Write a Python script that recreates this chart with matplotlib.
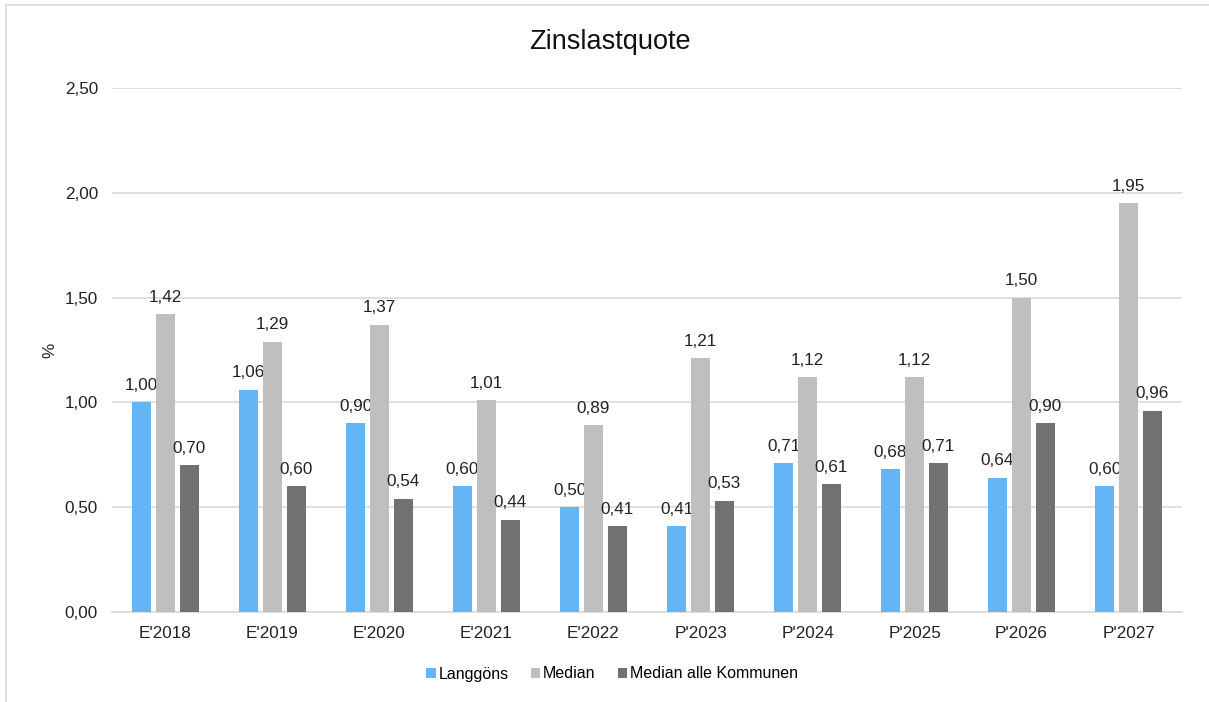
import numpy as np
import matplotlib.pyplot as plt
from matplotlib.lines import Line2D

plt.rcParams['font.family'] = ['Liberation Sans', 'DejaVu Sans']

# data
categories = ["E'2018", "E'2019", "E'2020", "E'2021", "E'2022",
              "P'2023", "P'2024", "P'2025", "P'2026", "P'2027"]
langgoens = [1.00, 1.06, 0.90, 0.60, 0.50, 0.41, 0.71, 0.68, 0.64, 0.60]
median = [1.42, 1.29, 1.37, 1.01, 0.89, 1.21, 1.12, 1.12, 1.50, 1.95]
median_alle = [0.70, 0.60, 0.54, 0.44, 0.41, 0.53, 0.61, 0.71, 0.90, 0.96]

series = [
    ('Langgöns', langgoens, '#63B5F5'),
    ('Median', median, '#BFBFBF'),
    ('Median alle Kommunen', median_alle, '#717171'),
]

fig = plt.figure(figsize=(12.09, 7.02), dpi=100)
ax = fig.add_axes([0.0926, 0.1282, 0.8851, 0.7464])

x = np.arange(len(categories))
width = 0.17
step = 0.224

for i, (name, vals, col) in enumerate(series):
    pos = x + (i - 1) * step
    bars = ax.bar(pos, vals, width, color=col, label=name, zorder=3)
    for b, v in zip(bars, vals):
        ax.text(b.get_x() + b.get_width() / 2, v + 0.045,
                f'{v:.2f}'.replace('.', ','), ha='center', va='bottom',
                fontsize=12.3, color='#222222')

ax.set_xlim(-0.5, len(categories) - 0.5)
ax.set_ylim(0, 2.5)
ax.set_yticks(np.arange(0, 2.51, 0.5))
ax.set_yticklabels([f'{t:.2f}'.replace('.', ',') for t in np.arange(0, 2.51, 0.5)])
ax.set_xticks(x)
ax.set_xticklabels(categories)
ax.tick_params(axis='both', length=0, labelsize=12.3, colors='#222222')
ax.tick_params(axis='y', pad=10)
ax.tick_params(axis='x', pad=10)
ax.grid(axis='y', color='#D9D9D9', linewidth=1.2, zorder=0)
for s in ['top', 'right', 'left']:
    ax.spines[s].set_visible(False)
ax.spines['bottom'].set_color('#D9D9D9')
ax.spines['bottom'].set_linewidth(1.2)

fig.text(50 / 1209, 1 - 350 / 702, '%', rotation=90, ha='center', va='center',
         fontsize=12.3, color='#222222')

fig.text(0.5047, 1 - 42 / 702, 'Zinslastquote', ha='center', va='center',
         fontsize=19.5, color='#111111')

handles, labels = ax.get_legend_handles_labels()
fig.legend(handles, labels, loc='center', bbox_to_anchor=(612 / 1209, 1 - 674 / 702),
           ncol=3, frameon=False, fontsize=11.5, handlelength=0.6,
           handleheight=0.6, handletextpad=0.15, columnspacing=1.4)

# outer chart border (top and left visible)
fig.add_artist(Line2D([6 / 1209, 1], [1 - 5 / 702, 1 - 5 / 702],
                      transform=fig.transFigure, color='#D9D9D9', lw=1.2))
fig.add_artist(Line2D([6 / 1209, 6 / 1209], [0, 1 - 5 / 702],
                      transform=fig.transFigure, color='#D9D9D9', lw=1.2))

fig.savefig('out.png', dpi=100)
